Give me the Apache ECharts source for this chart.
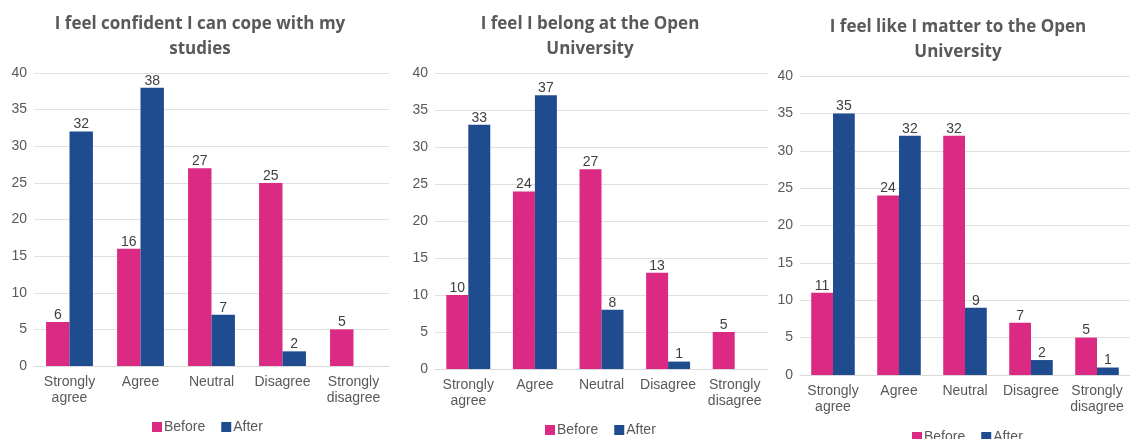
<!DOCTYPE html>
<html><head><meta charset="utf-8">
<script src="https://cdn.jsdelivr.net/npm/echarts@6/dist/echarts.min.js"></script>
<style>html,body{margin:0;padding:0;background:#fff}#c{width:1130px;height:439px}</style>
</head><body><div id="c"></div>
<script>
const categories = ["Strongly\nagree", "Agree", "Neutral", "Disagree", "Strongly\ndisagree"];
const titles = ["I feel confident I can cope with my\nstudies", "I feel I belong at the Open\nUniversity", "I feel like I matter to the Open\nUniversity"];
const before1 = [6, 16, 27, 25, 5];
const after1 = [32, 38, 7, 2, null];
const before2 = [10, 24, 27, 13, 5];
const after2 = [33, 37, 8, 1, null];
const before3 = [11, 24, 32, 7, 5];
const after3 = [35, 32, 9, 2, 1];
const yTicks = { min: 0, max: 40, interval: 5 };

const PINK = '#DB2A84', BLUE = '#1F4C8E';
const FONT = '"Liberation Sans", Arial, sans-serif';
const panels = [
  { grid: { left: 34, top: 73, width: 355, height: 293 }, titleX: 195, titleTop: 7, legendLeft: 147, legendTop: 415, b: before1, a: after1 },
  { grid: { left: 435, top: 73, width: 333, height: 296 }, titleX: 585, titleTop: 7, legendLeft: 540, legendTop: 418, b: before2, a: after2 },
  { grid: { left: 800, top: 76, width: 340, height: 299 }, titleX: 953, titleTop: 10, legendLeft: 907, legendTop: 425, b: before3, a: after3 }
];

const option = { animation: false, title: [], grid: [], xAxis: [], yAxis: [], legend: [], series: [] };
panels.forEach((p, i) => {
  option.title.push({ text: titles[i], left: p.titleX, top: p.titleTop, textAlign: 'center',
    textStyle: { fontFamily: '"Open Sans", sans-serif', fontWeight: 'bold', fontSize: 17, color: '#595959', lineHeight: 25 } });
  option.grid.push(Object.assign({ containLabel: false }, p.grid));
  option.xAxis.push({ type: 'category', gridIndex: i, data: categories,
    axisLine: { lineStyle: { color: '#d9d9d9' } }, axisTick: { show: false },
    axisLabel: { color: '#595959', fontFamily: FONT, fontSize: 14, lineHeight: 16, margin: 8, interval: 0 } });
  option.yAxis.push({ type: 'value', gridIndex: i, min: yTicks.min, max: yTicks.max, interval: yTicks.interval,
    axisLine: { show: false }, axisTick: { show: false },
    splitLine: { lineStyle: { color: '#e0e0e0' } },
    axisLabel: { color: '#595959', fontFamily: FONT, fontSize: 14, margin: 7 } });
  option.legend.push({ data: ['Before', 'After'], left: p.legendLeft, top: p.legendTop, orient: 'horizontal',
    icon: 'rect', itemWidth: 10, itemHeight: 10, itemGap: 16,
    textStyle: { color: '#595959', fontFamily: FONT, fontSize: 14, padding: [0, 0, 0, -3] } });
  const lbl = { show: true, position: 'top', distance: 0, color: '#404040', fontFamily: FONT, fontSize: 14 };
  option.series.push({ name: 'Before', type: 'bar', xAxisIndex: i, yAxisIndex: i, data: p.b,
    itemStyle: { color: PINK }, barGap: '0%', barCategoryGap: '34%', label: lbl });
  option.series.push({ name: 'After', type: 'bar', xAxisIndex: i, yAxisIndex: i, data: p.a,
    itemStyle: { color: BLUE }, barGap: '0%', barCategoryGap: '34%', label: lbl });
});
const chart = echarts.init(document.getElementById('c'), null, { renderer: 'canvas' });
chart.setOption(option);
</script></body></html>
